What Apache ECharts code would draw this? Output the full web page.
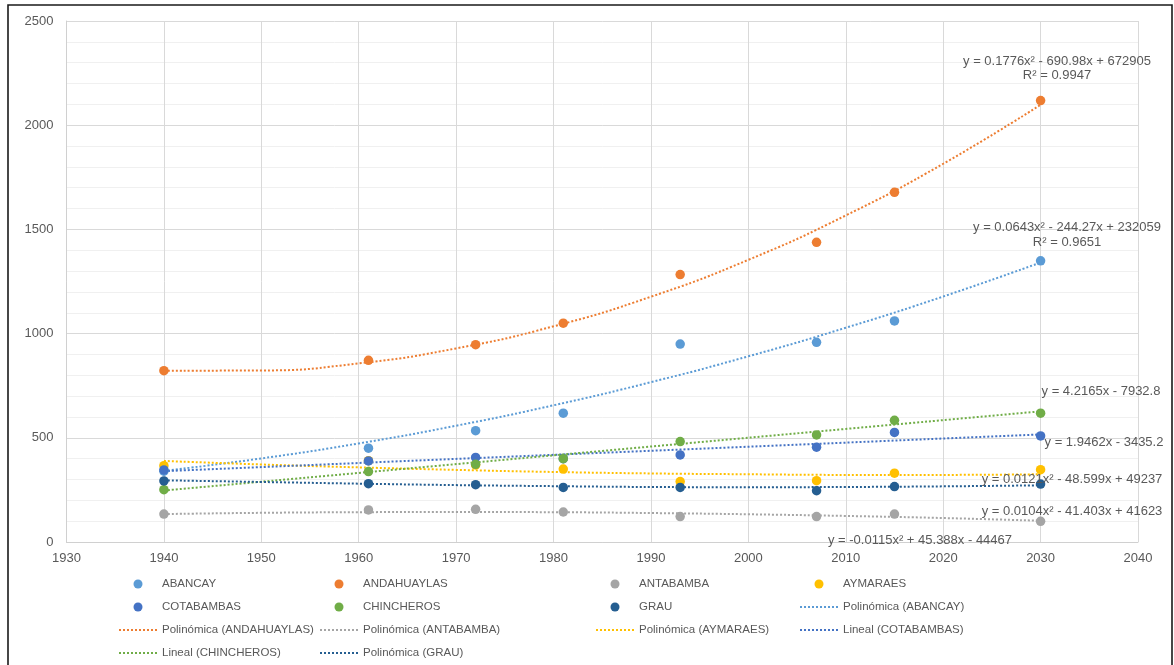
<!DOCTYPE html>
<html>
<head>
<meta charset="utf-8">
<script src="https://cdn.jsdelivr.net/npm/echarts@6/dist/echarts.min.js"></script>
<style>html,body{margin:0;padding:0;background:#fff;}#c{width:1174px;height:665px;}</style>
</head>
<body>
<div id="c"></div>
<script>
// ---- data ----
const years = [1940, 1961, 1972, 1981, 1993, 2007, 2015, 2030];
const abancay     = [340, 450, 534, 618, 950, 958, 1061, 1349];
const andahuaylas = [822, 872, 947, 1050, 1283, 1438, 1678, 2118];
const antabamba   = [134, 154, 157, 144, 122, 122, 134, 99];
const aymaraes    = [366, 390, 370, 350, 290, 294, 330, 347];
const cotabambas  = [346, 389, 406, 400, 418, 455, 526, 509];
const chincheros  = [251, 338, 373, 400, 482, 514, 584, 618];
const grau        = [293, 280, 275, 262, 262, 246, 266, 278];

// trend lines
const trendYears = [1940, 1950, 1960, 1970, 1980, 1990, 2000, 2010, 2020, 2030];
const abancayTrend     = [341, 401, 473, 558, 656, 767, 891, 1028, 1178, 1341];
const andahuaylasTrend = [822, 823, 857, 929, 1035, 1177, 1354, 1567, 1815, 2098];
const antabambaTrend   = [134, 140, 143, 144, 143, 139, 133, 125, 115, 102];
const aymaraesTrend    = [389, 372, 358, 346, 336, 329, 325, 322, 322, 325];
const grauTrend        = [296, 288, 280, 273, 268, 264, 263, 264, 267, 272];
const linearYears = [1940, 2030];
const cotabambasTrend  = [340, 516];
const chincherosTrend  = [247, 627];

const equations = [
  'y = 0.1776x² - 690.98x + 672905', 'R² = 0.9947',
  'y = 0.0643x² - 244.27x + 232059', 'R² = 0.9651',
  'y = 4.2165x - 7932.8',
  'y = 1.9462x - 3435.2',
  'y = 0.0121x² - 48.599x + 49237',
  'y = 0.0104x² - 41.403x + 41623',
  'y = -0.0115x² + 45.388x - 44467'
];

const C = {
  ABANCAY: '#5B9BD5', ANDAHUAYLAS: '#ED7D31', ANTABAMBA: '#A5A5A5', AYMARAES: '#FFC000',
  COTABAMBAS: '#4472C4', CHINCHEROS: '#70AD47', GRAU: '#255E91'
};

function pts(xs, ys) { return xs.map((x, i) => [x, ys[i]]); }
function scatter(name, ys) {
  return { name, type: 'scatter', data: pts(years, ys), symbol: 'circle', symbolSize: 9.5,
    itemStyle: { color: C[name], opacity: 1 }, z: 5 };
}
function trend(name, key, xs, ys) {
  return { name, type: 'line', data: pts(xs, ys), smooth: true, symbol: 'none', z: 3,
    lineStyle: { color: C[key], width: 2, type: [2, 2], cap: 'butt' },
    itemStyle: { color: C[key] } };
}

const series = [
  scatter('ABANCAY', abancay), scatter('ANDAHUAYLAS', andahuaylas), scatter('ANTABAMBA', antabamba),
  scatter('AYMARAES', aymaraes), scatter('COTABAMBAS', cotabambas), scatter('CHINCHEROS', chincheros),
  scatter('GRAU', grau),
  trend('Polinómica (ABANCAY)', 'ABANCAY', trendYears, abancayTrend),
  trend('Polinómica (ANDAHUAYLAS)', 'ANDAHUAYLAS', trendYears, andahuaylasTrend),
  trend('Polinómica (ANTABAMBA)', 'ANTABAMBA', trendYears, antabambaTrend),
  trend('Polinómica (AYMARAES)', 'AYMARAES', trendYears, aymaraesTrend),
  trend('Lineal (COTABAMBAS)', 'COTABAMBAS', linearYears, cotabambasTrend),
  trend('Lineal (CHINCHEROS)', 'CHINCHEROS', linearYears, chincherosTrend),
  trend('Polinómica (GRAU)', 'GRAU', trendYears, grauTrend)
];

const legendCols = [
  ['ABANCAY', 'COTABAMBAS', 'Polinómica (ANDAHUAYLAS)', 'Lineal (CHINCHEROS)'],
  ['ANDAHUAYLAS', 'CHINCHEROS', 'Polinómica (ANTABAMBA)', 'Polinómica (GRAU)'],
  ['ANTABAMBA', 'GRAU', 'Polinómica (AYMARAES)'],
  ['AYMARAES', 'Polinómica (ABANCAY)', 'Lineal (COTABAMBAS)']
];
const legendLeft = [118, 319, 595, 799];
const legends = legendCols.map((d, i) => ({
  data: d.map(n => n.indexOf('(') >= 0
    ? { name: n, itemStyle: { color: 'rgba(0,0,0,0)', borderWidth: 0, borderColor: 'rgba(0,0,0,0)' } }
    : { name: n }),
  orient: 'vertical', left: legendLeft[i], top: 577, padding: 0,
  itemWidth: 38, itemHeight: 9, itemGap: 9, selectedMode: false,
  textStyle: { color: '#595959', fontSize: 11.5, fontFamily: 'Liberation Sans', lineHeight: 14 }
}));

const eqStyle = { fill: '#595959', fontSize: 13, fontFamily: 'Liberation Sans', textAlign: 'center', textVerticalAlign: 'middle' };
const eqPos = [[1057, 61], [1057, 75], [1067, 227], [1067, 242], [1101, 391], [1104, 442], [1072, 479], [1072, 511], [920, 540]];
const graphics = equations.map((t, i) => ({
  type: 'text', x: eqPos[i][0], y: eqPos[i][1], z: 10,
  style: Object.assign({ text: t }, eqStyle)
}));
graphics.push({ type: 'rect', shape: { x: 8, y: 5, width: 1164, height: 700 }, z: 20,
  style: { fill: 'none', stroke: '#1a1a1a', lineWidth: 1.6 } });

const plain = v => String(v);
const chart = echarts.init(document.getElementById('c'));
chart.setOption({
  backgroundColor: '#fff',
  animation: false,
  grid: { left: 66.5, right: 36, top: 21, bottom: 123 },
  xAxis: {
    type: 'value', min: 1930, max: 2040, interval: 10,
    axisLine: { show: true, lineStyle: { color: '#d0d0d0', width: 1 } },
    axisTick: { show: false },
    axisLabel: { color: '#595959', fontSize: 13, fontFamily: 'Liberation Sans', margin: 10, formatter: plain },
    splitLine: { show: true, lineStyle: { color: '#d9d9d9', width: 1 } }
  },
  yAxis: {
    type: 'value', min: 0, max: 2500, interval: 500,
    axisLine: { show: true, lineStyle: { color: '#d0d0d0', width: 1 } },
    axisTick: { show: false },
    axisLabel: { color: '#595959', fontSize: 13, fontFamily: 'Liberation Sans', margin: 13, formatter: plain },
    splitLine: { show: true, lineStyle: { color: '#d9d9d9', width: 1 } },
    minorTick: { show: false, splitNumber: 5 },
    minorSplitLine: { show: true, lineStyle: { color: '#f0f0f0', width: 1 } }
  },
  legend: legends,
  series: series,
  graphic: graphics
});
</script>
</body>
</html>
